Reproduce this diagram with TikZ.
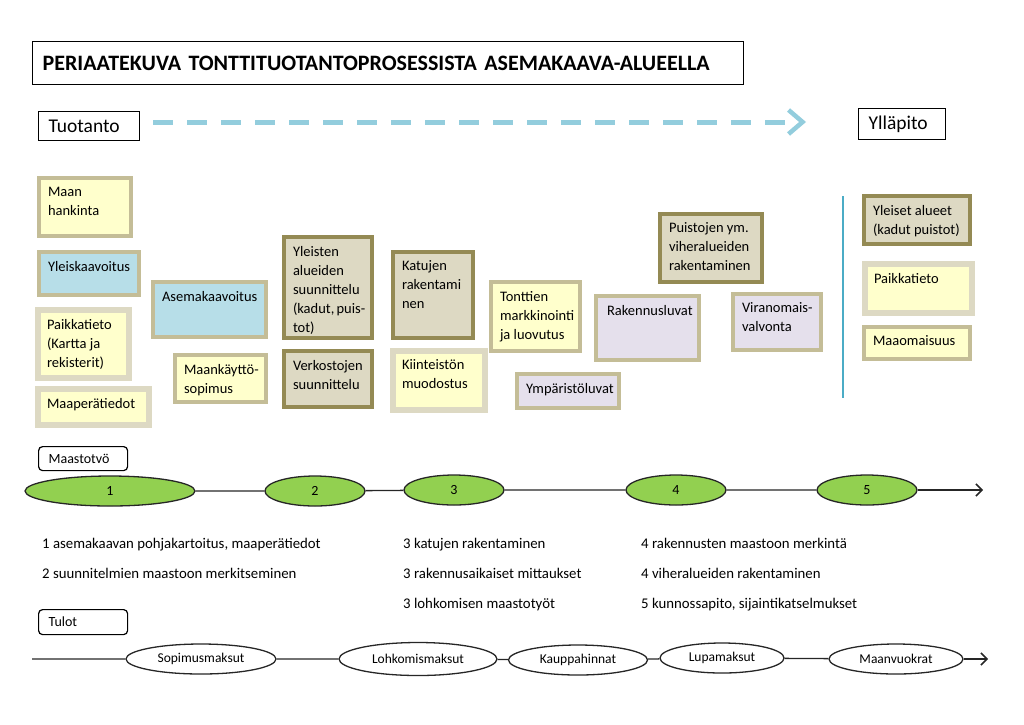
\documentclass[tikz,border=0pt]{standalone}
\usepackage{fontspec}
\setmainfont{Carlito}
\usetikzlibrary{shapes.geometric,arrows.meta}

\definecolor{pyellow}{HTML}{FFFFCC}
\definecolor{pblue}{HTML}{B7DEE8}
\definecolor{plilac}{HTML}{E5E0EC}
\definecolor{pbeige}{HTML}{DDD9C3}
\definecolor{pkhaki}{HTML}{C4BD97}
\definecolor{polive}{HTML}{948A54}
\definecolor{pgrey}{HTML}{DDD9C3}
\definecolor{pdash}{HTML}{93CDDD}
\definecolor{pteal}{HTML}{4BACC6}
\definecolor{pgreen}{HTML}{92D050}

% box with its text in the upper left corner: name, style, x1, y1, x2, y2, text
\newcommand\kaavabox[7]{%
  \node[#2, anchor=north west] (#1) at (#3,#4)
    {\parbox[c][\dimexpr#6pt-#4pt-22pt\relax][t]{\dimexpr#5pt-#3pt-22pt\relax}%
      {\raggedright\hyphenpenalty=10000\exhyphenpenalty=10000 #7}};}

\begin{document}
\begin{tikzpicture}[x=1pt, y=-1pt,
  kbox/.style={draw=pkhaki, line width=4pt, inner sep=9pt, font=\fontsize{14.5}{19}\selectfont},
  yellowbox/.style={kbox, fill=pyellow},
  bluebox/.style={kbox, fill=pblue},
  lilacbox/.style={kbox, fill=plilac},
  greybox/.style={kbox, fill=pyellow, draw=pgrey, line width=6pt},
  olivebox/.style={kbox, fill=pbeige, draw=polive},
  headbox/.style={draw, line width=1.2pt, anchor=north west, inner xsep=10pt, align=left,
    font=\fontsize{19.5}{22}\selectfont},
  stagebox/.style={draw, line width=1.2pt, rounded corners=4pt, anchor=north west,
    inner xsep=10pt, align=left, font=\fontsize{14}{16}\selectfont},
  phase/.style={ellipse, draw=black!85, line width=1.3pt, fill=pgreen, inner sep=0pt,
    minimum height=30, font=\fontsize{14}{16}\selectfont},
  income/.style={ellipse, draw=black!85, line width=1.3pt, fill=white, inner sep=0pt,
    minimum height=30, font=\fontsize{13.5}{16}\selectfont},
  note/.style={anchor=base west, inner sep=0pt, font=\fontsize{14.8}{17}\selectfont},
  timearrow/.style={-{Straight Barb[length=6pt, width=12pt, line width=1.5pt]}}]
  \useasboundingbox (0,0) rectangle (1024,724);

  % header
  \node[headbox, line width=1.3pt, minimum height=43, text width=691,
    font=\bfseries\fontsize{22}{24}\selectfont] (title) at (32,41)
    {PERIAATEKUVA TONTTITUOTANTOPROSESSISTA ASEMAKAAVA-ALUEELLA};
  \node[headbox, minimum height=29, text width=81] (tuotanto) at (38,111) {Tuotanto};
  \node[headbox, minimum height=31, text width=67] (yllapito) at (858,108) {Ylläpito};

  \coordinate (dstart) at (153,122);
  \coordinate (dend) at (806,122);
  \draw[pdash, line width=5pt, dash pattern=on 20pt off 14pt,
    -{Straight Barb[length=14pt, width=24pt, line width=4.5pt]}] (dstart) -- (dend);

  % production
  \kaavabox{hankinta}{yellowbox}{37}{176}{133}{238}{Maan\\hankinta}
  \kaavabox{yleiskaava}{bluebox}{37}{250}{141}{297}{Yleiskaavoitus}
  \kaavabox{paikka}{greybox}{35}{307}{130}{379}{Paikkatieto\\(Kartta~ja\\rekisterit)}
  \kaavabox{maapera}{greybox}{35}{386}{150}{426}{Maaperätiedot}
  \kaavabox{asemakaava}{bluebox}{151}{280}{268}{339}{Asemakaavoitus}
  \kaavabox{maankaytto}{yellowbox}{173}{353}{268}{404}{Maankäyttö-\\sopimus}
  \kaavabox{yleisten}{olivebox}{282}{235}{374}{340}{Yleisten\\alueiden\\suunnittelu\\(kadut,~puis-\\tot)}
  \kaavabox{verkosto}{olivebox}{282}{349}{374}{409}{Verkostojen\\suunnittelu}
  \kaavabox{katujen}{olivebox}{391}{250}{475}{340}{Katujen\\rakentami\\nen}
  \kaavabox{kiinteisto}{greybox}{390}{348}{486}{411}{Kiinteistön\\muodostus}
  \kaavabox{tonttien}{yellowbox}{489}{280}{582}{353}{Tonttien\\markkinointi\\ja~luovutus}
  \kaavabox{rakluvat}{lilacbox}{594}{294}{701}{362}{\hspace*{2pt}Rakennusluvat}
  \kaavabox{ymparisto}{lilacbox}{515}{372}{621}{410}{Ympäristöluvat}
  \kaavabox{puistot}{olivebox}{658}{212}{764}{284}{Puistojen~ym.\\viheralueiden\\rakentaminen}
  \kaavabox{valvonta}{lilacbox}{731}{292}{823}{352}{Viranomais-\\valvonta}

  % maintenance
  \coordinate (vtop) at (843,196);
  \coordinate (vbot) at (843,398);
  \draw[pteal, line width=2.5pt] (vtop) -- (vbot);
  \kaavabox{yleiset}{olivebox}{862}{194}{972}{246}{Yleiset~alueet\\(kadut~puistot)}
  \kaavabox{paikka2}{greybox}{862}{261}{973}{314}{Paikkatieto}
  \kaavabox{omaisuus}{yellowbox}{862}{325}{972}{361}{Maaomaisuus}

  % field work
  \node[stagebox, minimum height=24, text width=69] (maastotyo) at (38,446) {Maastotvö};
  \node[phase, minimum width=170] (v1) at (110,491) {1};
  \node[phase, minimum width=100] (v2) at (315,491) {2};
  \node[phase, minimum width=100] (v3) at (454,490) {3};
  \node[phase, minimum width=100] (v4) at (676,490) {4};
  \node[phase, minimum width=100] (v5) at (867,490) {5};
  \coordinate (vend) at (983,490);
  \draw[black!85, line width=1.3pt] (v1) -- (v2) -- (v3) -- (v4) -- (v5);
  \draw[black!85, line width=1.3pt, timearrow] (v5) -- (vend);

  \node[note] (n1) at (42,548) {1 asemakaavan pohjakartoitus, maaperätiedot};
  \node[note] (n2) at (42,578) {2 suunnitelmien maastoon merkitseminen};
  \node[note] (n3) at (403,548) {3 katujen rakentaminen};
  \node[note] (n4) at (403,578) {3 rakennusaikaiset mittaukset};
  \node[note] (n5) at (403,608) {3 lohkomisen maastotyöt};
  \node[note] (n6) at (641,548) {4 rakennusten maastoon merkintä};
  \node[note] (n7) at (641,578) {4 viheralueiden rakentaminen};
  \node[note] (n8) at (641,608) {5 kunnossapito, sijaintikatselmukset};

  % income
  \node[stagebox, minimum height=25, text width=69] (tulot) at (38,609) {Tulot};
  \coordinate (tstart) at (32,659);
  \node[income, minimum width=150] (s1) at (201,659) {Sopimusmaksut};
  \node[income, minimum width=158, minimum height=33] (s2) at (418,659) {Lohkomismaksut};
  \node[income, minimum width=139] (s3) at (578,660) {Kauppahinnat};
  \node[income, minimum width=124] (s4) at (722,658) {Lupamaksut};
  \node[income, minimum width=134] (s5) at (896,659) {Maanvuokrat};
  \coordinate (tend) at (988,659);
  \draw[black!85, line width=1.3pt] (tstart) -- (s1) -- (s2) -- (s3) -- (s4) -- (s5);
  \draw[black!85, line width=1.3pt, timearrow] (s5) -- (tend);
\end{tikzpicture}
\end{document}
